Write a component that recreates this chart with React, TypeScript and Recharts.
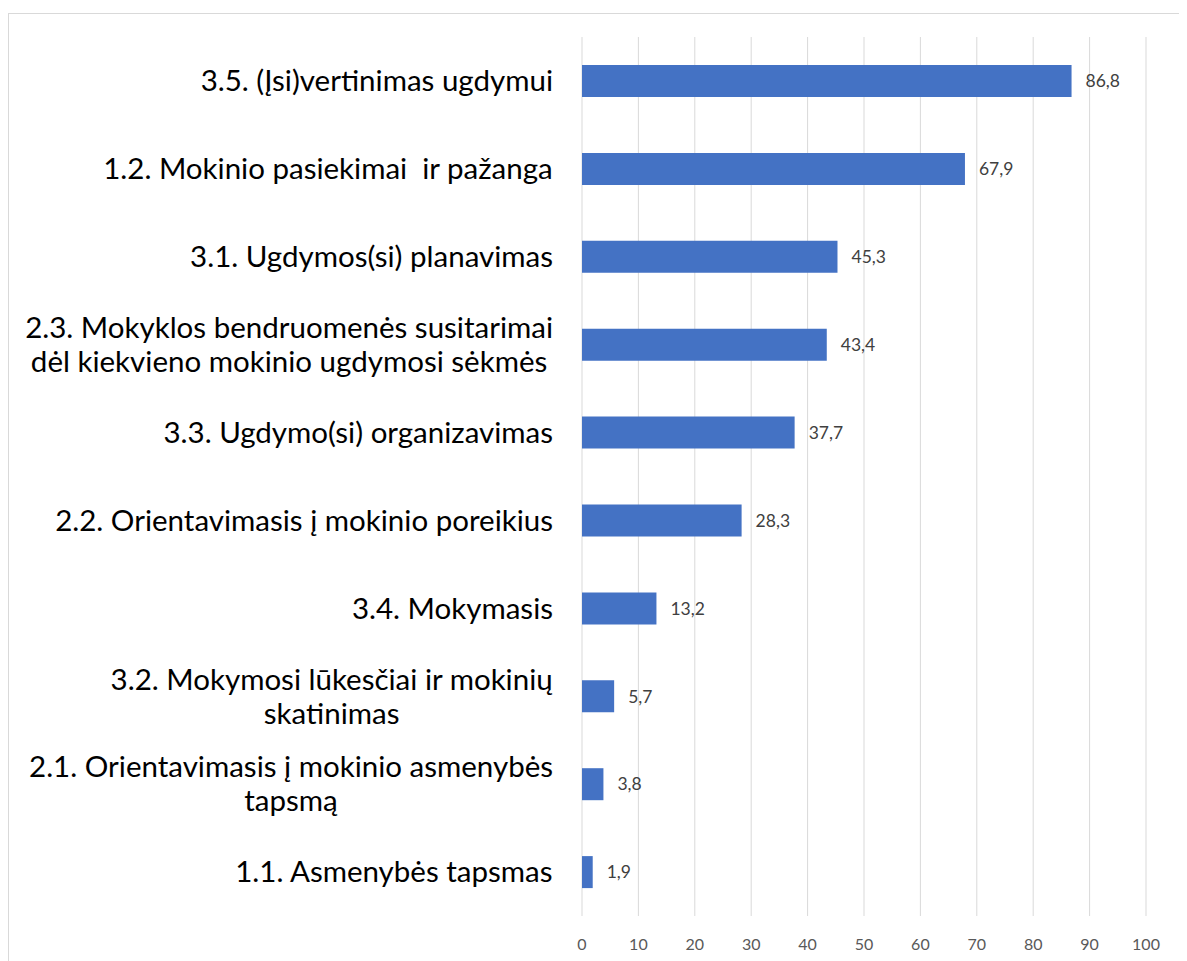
import { Bar, BarChart, CartesianGrid, LabelList, XAxis, YAxis } from "recharts";

const categories = [
  "3.5. (Įsi)vertinimas ugdymui",
  "1.2. Mokinio pasiekimai  ir pažanga",
  "3.1. Ugdymos(si) planavimas",
  "2.3. Mokyklos bendruomenės susitarimai\ndėl kiekvieno mokinio ugdymosi sėkmės",
  "3.3. Ugdymo(si) organizavimas",
  "2.2. Orientavimasis į mokinio poreikius",
  "3.4. Mokymasis",
  "3.2. Mokymosi lūkesčiai ir mokinių\nskatinimas",
  "2.1. Orientavimasis į mokinio asmenybės\ntapsmą",
  "1.1. Asmenybės tapsmas",
];
const values = [86.8, 67.9, 45.3, 43.4, 37.7, 28.3, 13.2, 5.7, 3.8, 1.9];
const xTicks = [0, 10, 20, 30, 40, 50, 60, 70, 80, 90, 100];

const data = categories.map((name, i) => ({ name, value: values[i] }));

const LABEL_FONT = 29.5;
const LABEL_FAMILY = "Lato, 'Noto Sans', sans-serif";

let ctx: CanvasRenderingContext2D | null = null;
function measure(text: string) {
  if (!ctx) ctx = document.createElement("canvas").getContext("2d");
  if (!ctx) return text.length * LABEL_FONT * 0.5;
  ctx.font = `${LABEL_FONT}px Lato`;
  return ctx.measureText(text).width;
}

// multi-line labels: block right-aligned to the axis, lines centred inside it
function CategoryTick({ x, y, payload }: any) {
  const lines = String(payload.value).split("\n");
  const maxW = Math.max(...lines.map(measure));
  const right = x - 21;
  const cx = right - maxW / 2;
  const lh = 34;
  const startY = y - ((lines.length - 1) * lh) / 2;
  return (
    <text
      x={cx}
      y={startY}
      textAnchor="middle"
      fontSize={LABEL_FONT}
      fontFamily={LABEL_FAMILY}
      fill="#000000"
      style={{ whiteSpace: "pre" }}
    >
      {lines.map((l, i) => (
        <tspan key={i} x={cx} y={startY + i * lh} dy="0.35em">
          {l}
        </tspan>
      ))}
    </text>
  );
}

export default function App() {
  return (
    <div
      style={{
        marginTop: 5,
        width: 1177,
        height: 960,
        border: "1px solid #d9d9d9",
        background: "#fff",
      }}
    >
      <BarChart
        width={1175}
        height={946}
        data={data}
        layout="vertical"
        margin={{ top: 23, right: 38, bottom: 8, left: 0 }}
        barCategoryGap={28}
      >
        <CartesianGrid stroke="#d9d9d9" horizontal={false} />
        <XAxis
          type="number"
          domain={[0, 100]}
          ticks={xTicks}
          axisLine={false}
          tickLine={false}
          tickMargin={17}
          height={36}
          tick={{ fill: "#595959", fontSize: 16, fontFamily: "Lato, sans-serif" }}
        />
        <YAxis
          type="category"
          dataKey="name"
          width={573}
          axisLine={false}
          tickLine={false}
          tick={<CategoryTick />}
          interval={0}
        />
        <Bar dataKey="value" fill="#4472c4" barSize={32} isAnimationActive={false}>
          <LabelList
            dataKey="value"
            position="right"
            offset={14}
            formatter={(v: any) => String(v).replace(".", ",")}
            fill="#404040"
            fontSize={17.5}
            fontFamily="Lato, sans-serif"
          />
        </Bar>
      </BarChart>
    </div>
  );
}
